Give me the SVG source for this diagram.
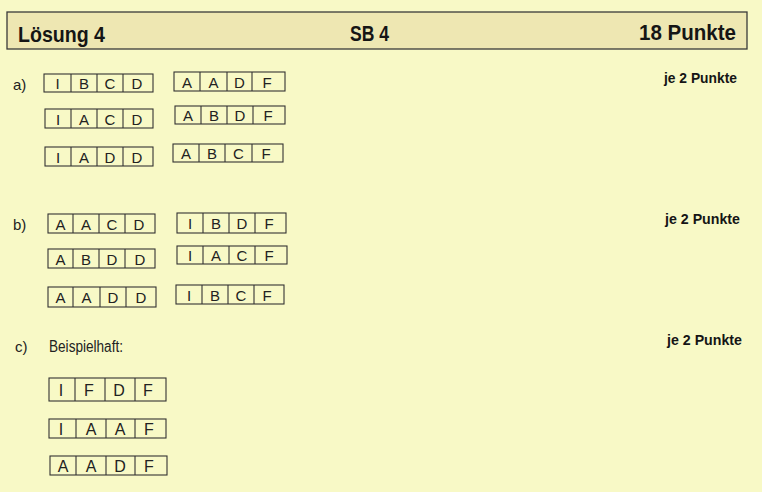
<svg xmlns="http://www.w3.org/2000/svg" width="762" height="492" viewBox="0 0 762 492">
<style>
.bg{fill:#f8f9c6}
.hdr{fill:#eee7b2;stroke:#3a3a3a;stroke-width:1.3}
.ht{font-family:"Liberation Sans",Arial,sans-serif;font-weight:bold;font-size:22px;fill:#151515}
.pts{font-family:"Liberation Sans",Arial,sans-serif;font-weight:bold;font-size:14.5px;fill:#151515}
.lbl{font-family:"Liberation Sans",Arial,sans-serif;font-size:15px;fill:#222}
.box rect{fill:none;stroke:#333;stroke-width:1.1}
.box line{stroke:#333;stroke-width:1.1}
.box text{font-family:"Liberation Sans",Arial,sans-serif;font-size:15px;fill:#222;text-anchor:middle}
.big text{font-size:16px}
</style>
<rect class="bg" x="0" y="0" width="762" height="492"/>
<g id="header">
<rect class="hdr" x="7" y="12" width="740" height="37"/>
<text class="ht" x="18" y="42" textLength="87" lengthAdjust="spacingAndGlyphs">Lösung 4</text>
<text class="ht" x="350" y="41" textLength="39" lengthAdjust="spacingAndGlyphs">SB 4</text>
<text class="ht" x="639" y="40" textLength="97" lengthAdjust="spacingAndGlyphs">18 Punkte</text>
</g>
<g id="labels">
<text class="lbl" x="13" y="90">a)</text>
<text class="lbl" x="13" y="230">b)</text>
<text class="lbl" x="15" y="352">c)</text>
<text class="lbl" x="49" y="352" style="font-size:16px" textLength="74" lengthAdjust="spacingAndGlyphs">Beispielhaft:</text>
<text class="pts" x="664" y="83" textLength="73" lengthAdjust="spacingAndGlyphs">je 2 Punkte</text>
<text class="pts" x="665" y="224" textLength="75" lengthAdjust="spacingAndGlyphs">je 2 Punkte</text>
<text class="pts" x="667" y="345" textLength="75" lengthAdjust="spacingAndGlyphs">je 2 Punkte</text>
</g>
<g id="a1l" class="box"><rect x="44" y="74" width="109" height="18"/><line x1="71" y1="74" x2="71" y2="92"/><line x1="97" y1="74" x2="97" y2="92"/><line x1="123" y1="74" x2="123" y2="92"/><text x="57.5" y="88.5">I</text><text x="84" y="88.5">B</text><text x="110" y="88.5">C</text><text x="137" y="88.5">D</text></g>
<g id="a1r" class="box"><rect x="174" y="72" width="111" height="19"/><line x1="200" y1="72" x2="200" y2="91"/><line x1="227" y1="72" x2="227" y2="91"/><line x1="252" y1="72" x2="252" y2="91"/><text x="187" y="87.5">A</text><text x="213.5" y="87.5">A</text><text x="239.5" y="87.5">D</text><text x="267" y="87.5">F</text></g>
<g id="a2l" class="box"><rect x="45" y="109" width="108" height="19"/><line x1="71" y1="109" x2="71" y2="128"/><line x1="97" y1="109" x2="97" y2="128"/><line x1="123" y1="109" x2="123" y2="128"/><text x="58" y="124.5">I</text><text x="84" y="124.5">A</text><text x="110" y="124.5">C</text><text x="137" y="124.5">D</text></g>
<g id="a2r" class="box"><rect x="175" y="106" width="110" height="18"/><line x1="201" y1="106" x2="201" y2="124"/><line x1="227" y1="106" x2="227" y2="124"/><line x1="253" y1="106" x2="253" y2="124"/><text x="188" y="120.5">A</text><text x="214" y="120.5">B</text><text x="240" y="120.5">D</text><text x="268" y="120.5">F</text></g>
<g id="a3l" class="box"><rect x="45" y="147" width="108" height="19"/><line x1="71" y1="147" x2="71" y2="166"/><line x1="97" y1="147" x2="97" y2="166"/><line x1="123" y1="147" x2="123" y2="166"/><text x="58" y="162.5">I</text><text x="84" y="162.5">A</text><text x="110" y="162.5">D</text><text x="137" y="162.5">D</text></g>
<g id="a3r" class="box"><rect x="173" y="144" width="110" height="18"/><line x1="199" y1="144" x2="199" y2="162"/><line x1="225" y1="144" x2="225" y2="162"/><line x1="252" y1="144" x2="252" y2="162"/><text x="186" y="158.5">A</text><text x="212" y="158.5">B</text><text x="238.5" y="158.5">C</text><text x="266" y="158.5">F</text></g>
<g id="b1l" class="box"><rect x="48" y="214" width="107" height="19"/><line x1="73" y1="214" x2="73" y2="233"/><line x1="99" y1="214" x2="99" y2="233"/><line x1="125" y1="214" x2="125" y2="233"/><text x="60.5" y="229.5">A</text><text x="86" y="229.5">A</text><text x="112" y="229.5">C</text><text x="139" y="229.5">D</text></g>
<g id="b1r" class="box"><rect x="177" y="213" width="109" height="20"/><line x1="203" y1="213" x2="203" y2="233"/><line x1="229" y1="213" x2="229" y2="233"/><line x1="255" y1="213" x2="255" y2="233"/><text x="190" y="228.5">I</text><text x="216" y="228.5">B</text><text x="242" y="228.5">D</text><text x="269" y="228.5">F</text></g>
<g id="b2l" class="box"><rect x="48" y="249" width="107" height="19"/><line x1="73" y1="249" x2="73" y2="268"/><line x1="99" y1="249" x2="99" y2="268"/><line x1="125" y1="249" x2="125" y2="268"/><text x="60.5" y="264.5">A</text><text x="86" y="264.5">B</text><text x="112" y="264.5">D</text><text x="140" y="264.5">D</text></g>
<g id="b2r" class="box"><rect x="177" y="246" width="110" height="18"/><line x1="203" y1="246" x2="203" y2="264"/><line x1="229" y1="246" x2="229" y2="264"/><line x1="255" y1="246" x2="255" y2="264"/><text x="190" y="260.5">I</text><text x="216" y="260.5">A</text><text x="242" y="260.5">C</text><text x="269" y="260.5">F</text></g>
<g id="b3l" class="box"><rect x="48" y="287" width="108" height="20"/><line x1="73" y1="287" x2="73" y2="307"/><line x1="100" y1="287" x2="100" y2="307"/><line x1="126" y1="287" x2="126" y2="307"/><text x="60.5" y="302.5">A</text><text x="86.5" y="302.5">A</text><text x="113" y="302.5">D</text><text x="141" y="302.5">D</text></g>
<g id="b3r" class="box"><rect x="176" y="285" width="108" height="19"/><line x1="202" y1="285" x2="202" y2="304"/><line x1="228" y1="285" x2="228" y2="304"/><line x1="254" y1="285" x2="254" y2="304"/><text x="189" y="300.5">I</text><text x="215" y="300.5">B</text><text x="241" y="300.5">C</text><text x="267" y="300.5">F</text></g>
<g id="c1" class="box big"><rect x="49" y="378" width="117" height="23"/><line x1="75" y1="378" x2="75" y2="401"/><line x1="105" y1="378" x2="105" y2="401"/><line x1="135" y1="378" x2="135" y2="401"/><text x="61" y="395.5">I</text><text x="89" y="395.5">F</text><text x="119" y="395.5">D</text><text x="148" y="395.5">F</text></g>
<g id="c2" class="box big"><rect x="49" y="419" width="117" height="19"/><line x1="76" y1="419" x2="76" y2="438"/><line x1="106" y1="419" x2="106" y2="438"/><line x1="135" y1="419" x2="135" y2="438"/><text x="61" y="434.5">I</text><text x="91" y="434.5">A</text><text x="120" y="434.5">A</text><text x="149" y="434.5">F</text></g>
<g id="c3" class="box big"><rect x="50" y="456" width="117" height="19"/><line x1="76" y1="456" x2="76" y2="475"/><line x1="106" y1="456" x2="106" y2="475"/><line x1="135" y1="456" x2="135" y2="475"/><text x="63" y="471.5">A</text><text x="91" y="471.5">A</text><text x="120" y="471.5">D</text><text x="149" y="471.5">F</text></g>
<g id="connectors"/>
</svg>
